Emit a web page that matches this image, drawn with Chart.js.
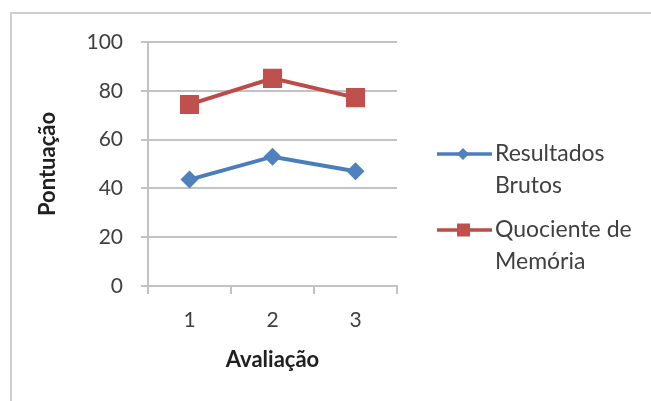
<!DOCTYPE html>
<html>
<head>
<meta charset="utf-8">
<script src="https://cdn.jsdelivr.net/npm/chart.js@4/dist/chart.umd.min.js"></script>
<style>
  body { margin: 0; background: #fff; }
  #wrap { position: relative; width: 651px; height: 401px; }
  #frame { position: absolute; left: 10px; top: 12px; right: -5px; bottom: -5px;
           border-top: 2px solid #cfcfcf; border-left: 2px solid #cfcfcf; }
  #c { position: absolute; left: 0; top: 0; }
</style>
</head>
<body>
<div id="wrap">
  <div id="frame"></div>
  <canvas id="c" width="651" height="401"></canvas>
</div>
<script>
// dados
const avaliacoes = ['1', '2', '3'];
const resultadosBrutos = [43.6, 53.0, 47.0];
const quocienteMemoria = [74.4, 85.1, 77.2];
const nomeBrutos = ['Resultados', 'Brutos'];
const nomeQuociente = ['Quociente de', 'Memória'];
const yMin = 0, yMax = 100, yPasso = 20;

const corTexto = '#404040';
const corGrelha = '#c2c2c2';

Chart.defaults.font.family = 'Lato';
Chart.defaults.color = corTexto;

// legenda desenhada a mao, porque tem texto em duas linhas
const legendaPlugin = {
  id: 'legenda',
  afterDraw(chart) {
    const ctx = chart.ctx;
    const ys = [154, 230];
    ctx.save();
    chart.data.datasets.forEach(function (ds, i) {
      var y = ys[i];
      ctx.strokeStyle = ds.borderColor;
      ctx.lineWidth = 3.5;
      ctx.beginPath();
      ctx.moveTo(437, y);
      ctx.lineTo(492, y);
      ctx.stroke();
      ctx.fillStyle = ds.pointBackgroundColor;
      ctx.beginPath();
      if (ds.pointStyle == 'rectRot') {
        ctx.moveTo(463, y - 6);
        ctx.lineTo(469, y);
        ctx.lineTo(463, y + 6);
        ctx.lineTo(457, y);
      } else {
        ctx.rect(457, y - 6.5, 13, 13);
      }
      ctx.closePath();
      ctx.fill();
      ctx.fillStyle = corTexto;
      ctx.font = '23px Lato';
      ctx.textBaseline = 'middle';
      ds.legendLines.forEach(function (t, k) {
        ctx.fillText(t, 495, y + k * 32);
      });
    });
    ctx.restore();
  }
};

new Chart(document.getElementById('c'), {
  type: 'line',
  data: {
    labels: avaliacoes,
    datasets: [
      {
        label: nomeBrutos.join(' '),
        legendLines: nomeBrutos,
        data: resultadosBrutos,
        borderColor: '#4a7ebb',
        borderWidth: 4,
        pointStyle: 'rectRot',
        pointRadius: 9,
        pointBackgroundColor: '#4f81bd',
        pointBorderColor: '#4f81bd',
        pointBorderWidth: 0,
        tension: 0
      },
      {
        label: nomeQuociente.join(' '),
        legendLines: nomeQuociente,
        data: quocienteMemoria,
        borderColor: '#be4b48',
        borderWidth: 4,
        pointStyle: 'rect',
        pointRadius: 13.5,
        pointBackgroundColor: '#c0504d',
        pointBorderColor: '#c0504d',
        pointBorderWidth: 0,
        tension: 0
      }
    ]
  },
  options: {
    responsive: false,
    animation: false,
    layout: { padding: { top: 42, right: 254, left: 0, bottom: 0 } },
    plugins: { legend: { display: false }, tooltip: { enabled: false } },
    scales: {
      x: {
        offset: true,
        grid: { display: true, drawOnChartArea: false, offset: true, tickLength: 8, color: corGrelha, lineWidth: 2 },
        border: { color: corGrelha, width: 2 },
        ticks: { font: { size: 21 }, padding: 14 },
        title: { display: true, text: 'Avaliação', font: { size: 22, weight: 'bold' }, color: '#202020', padding: { top: 0, bottom: 28 } },
        afterFit: function (s) { s.height = 401 - 286; }
      },
      y: {
        min: yMin,
        max: yMax,
        ticks: { stepSize: yPasso, font: { size: 21 }, padding: 18 },
        grid: { color: corGrelha, lineWidth: 2, tickLength: 7 },
        border: { color: corGrelha, width: 2 },
        title: { display: true, text: 'Pontuação', font: { size: 22, weight: 'bold' }, color: '#202020', padding: { top: 35, bottom: 0 } },
        afterFit: function (s) { s.width = 148; }
      }
    }
  },
  plugins: [legendaPlugin]
});
</script>
</body>
</html>
